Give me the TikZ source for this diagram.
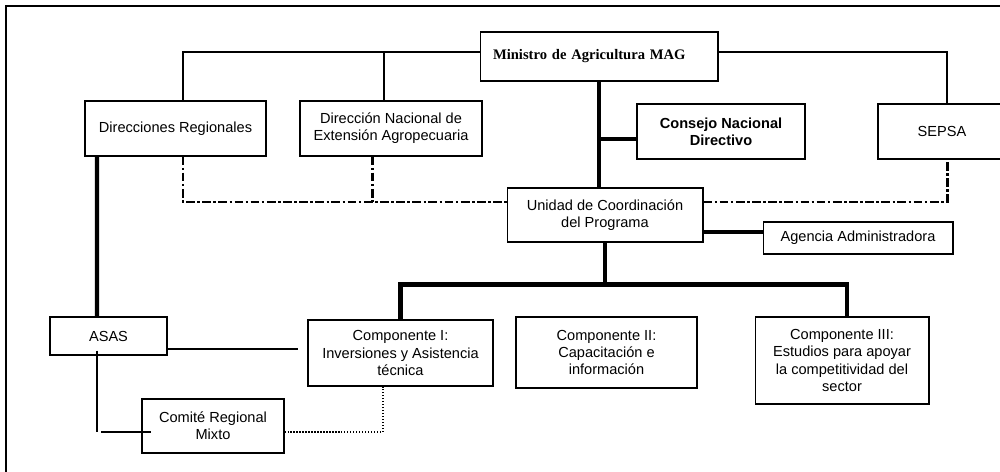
\documentclass[tikz,border=0pt]{standalone}
\usepackage{fontspec}
\setmainfont{Liberation Sans}
\newfontfamily\timesfont{Liberation Serif}
\begin{document}
\begin{tikzpicture}[x=0.02cm,y=-0.02cm,line join=miter]

		\tikzstyle{box}=[draw,line width=0.6pt,inner sep=0pt,align=center,font=\fontsize{8.3}{9.7}\selectfont]
		\tikzstyle{thin}=[line width=0.75pt]
		\tikzstyle{thickline}=[line width=2.5pt]
		\tikzstyle{dashdot}=[line width=1.7pt,dash pattern=on 5pt off 1.4pt on 1.4pt off 1.4pt]
		\tikzstyle{dots}=[line width=0.7pt,densely dotted]

		\useasboundingbox (0,0) rectangle (1000,472);
		\clip (0,0) rectangle (1000,472);
		\draw[line width=0.8pt] (6,6) rectangle (1012,484);

		\node[box,minimum height=0.98cm,text width=4.24cm,inner xsep=0.26cm,align=left,font=\timesfont\bfseries\fontsize{8.3}{9.7}\selectfont] (minis) at (599,56.5) {Ministro de Agricultura MAG};
		\node[box,minimum width=3.62cm,minimum height=1.10cm] (dirreg) at (175.5,128.5) {Direcciones Regionales};
		\node[box,minimum width=3.64cm,minimum height=1.10cm] (dnea) at (391,128.5) {Dirección Nacional de\\Extensión Agropecuaria};
		\node[box,minimum width=3.36cm,minimum height=1.10cm,font=\bfseries\fontsize{8.3}{9.7}\selectfont] (consejo) at (721,131.5) {Consejo Nacional\\Directivo};
		\node[box,minimum width=2.56cm,minimum height=1.10cm] (sepsa) at (942,131.5) {SEPSA};
		\node[box,minimum width=3.92cm,minimum height=1.08cm] (ucp) at (605,215) {Unidad de Coordinación\\del Programa};
		\node[box,minimum width=3.80cm,minimum height=0.64cm] (agencia) at (858,238) {Agencia Administradora};
		\node[box,minimum width=3.70cm,minimum height=1.32cm] (comp1) at (400.5,353) {Componente I:\\Inversiones y Asistencia\\técnica};
		\node[box,minimum width=3.62cm,minimum height=1.42cm] (comp2) at (606.5,352.5) {Componente II:\\Capacitación e\\información};
		\node[box,minimum width=3.48cm,minimum height=1.74cm] (comp3) at (842,360.5) {Componente III:\\Estudios para apoyar\\la competitividad del\\sector};
		\node[box,minimum width=2.34cm,minimum height=0.76cm] (asas) at (108.5,336) {ASAS};
		\node[box,minimum width=2.84cm,minimum height=1.08cm] (comite) at (213,426) {Comité Regional\\Mixto};

		\coordinate (topl) at ([yshift=0.09cm]minis.west);
		\coordinate (topr) at ([yshift=0.09cm]minis.east);
		\coordinate (cnd) at ([yshift=-0.15cm]consejo.west);
		\coordinate (dashl) at ([yshift=0.26cm]ucp.west);
		\coordinate (dashr) at ([yshift=0.26cm]ucp.east);
		\coordinate (agin) at ([yshift=0.12cm]agencia.west);
		\coordinate (bus) at ([yshift=-0.84cm]ucp.south);
		\coordinate (asasr) at ([yshift=-0.26cm]asas.east);
		\coordinate (asasb) at ([xshift=-0.23cm,yshift=0.1cm]asas.south);
		\coordinate (crm) at ([yshift=-0.12cm]comite.west);
		\coordinate (crmr) at ([yshift=-0.12cm]comite.east);

		\draw[thin] (topl) -| ([xshift=0.15cm]dirreg.north);
		\draw[thin] ([xshift=-0.14cm]dnea.north) -- ([xshift=-0.14cm]dnea.north |- topl);
		\draw[thin] (topr) -| ([xshift=0.1cm]sepsa.north);

		\draw[thickline] (minis.south) -- (minis.south |- ucp.north);
		\draw[thickline] (cnd) -- (cnd -| minis.south);
		\draw[thickline] (agin) -- (agin -| ucp.east);
		\draw[thickline] (ucp.south) -- (bus);
		\draw[thickline] (comp1.north) |- (bus) -| ([xshift=0.1cm]comp3.north);
		\draw[thickline] ([xshift=-1.57cm]dirreg.south) -- ([xshift=-0.23cm]asas.north);

		\draw[dashdot] ([xshift=0.15cm]dirreg.south) |- (dashl);
		\draw[dashdot] ([xshift=-0.38cm]dnea.south) -- ([xshift=-0.38cm]dnea.south |- dashl);
		\draw[dashdot] (dashr) -| ([xshift=0.1cm]sepsa.south);

		\draw[thin,shorten >=0.18cm] (asasr) -- (asasr -| comp1.west);
		\draw[thin] (asasb) -- (asasb |- crm);
		\draw[thin] ([xshift=0.08cm]asasb |- crm) -- ([xshift=0.2cm]crm);
		\draw[dots] (crmr) -| ([xshift=-0.35cm]comp1.south);

	\end{tikzpicture}
\end{document}
